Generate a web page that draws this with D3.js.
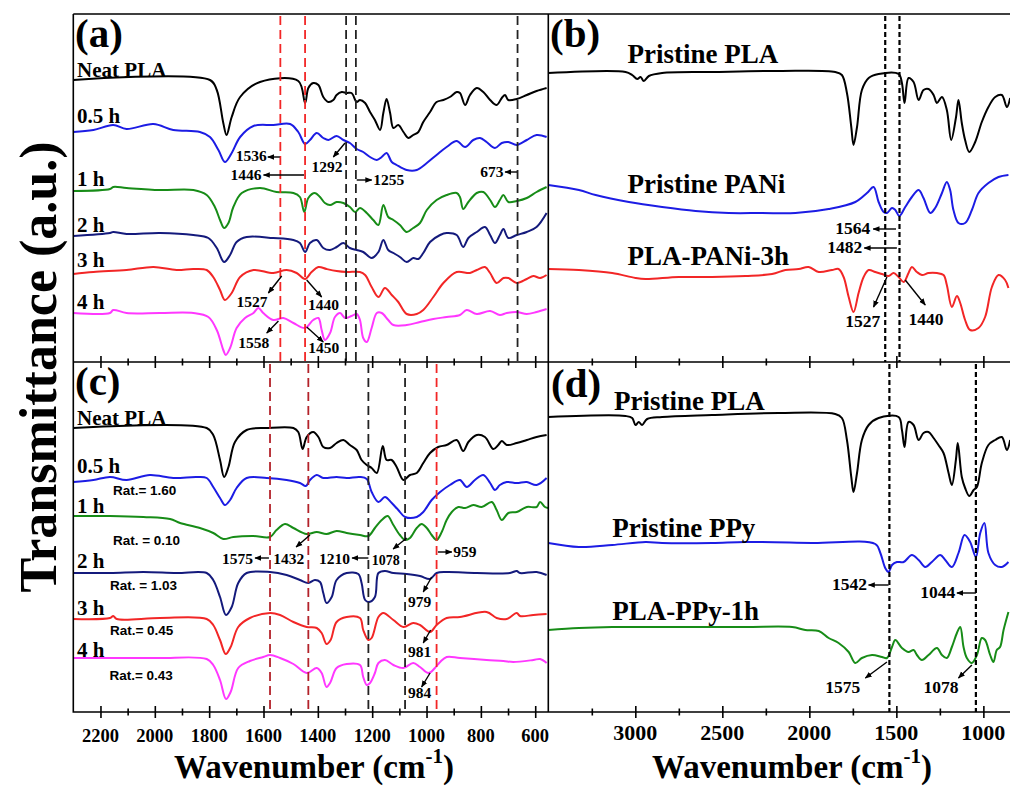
<!DOCTYPE html>
<html>
<head>
<meta charset="utf-8">
<script src="https://cdn.jsdelivr.net/npm/d3@7"></script>
<style>
  body { margin: 0; background: #fff; }
  svg { display: block; }
  text { font-family: "Liberation Serif", "Times New Roman", serif; font-weight: bold; fill: #000; }
</style>
</head>
<body>
<svg id="chart" width="1010" height="787"></svg>
<script>
// ---- spectra: [wavenumber (cm-1), transmittance (a.u., offset stacked)]
// panel (a)
const aNeat = [[2300,282],[1797,282],[1772,272],[1748,239],[1736,227],[1717,245],[1686,265],[1613,280],[1472,281],[1447,259],[1435,274],[1417,279],[1398,277],[1380,265],[1361,260],[1343,262],[1331,267],[1312,270],[1294,269],[1276,269],[1257,260],[1245,262],[1226,259],[1208,250],[1190,242],[1171,232],[1159,249],[1147,263],[1134,249],[1122,234],[1104,237],[1085,230],[1067,224],[1049,227],[1030,230],[1012,240],[987,250],[963,260],[938,262],[914,265],[889,270],[877,269],[858,257],[840,267],[815,274],[791,270],[766,262],[742,257],[723,264],[711,267],[699,262],[668,263],[631,267],[595,271],[558,274]];
const a05h = [[2300,230],[2226,232],[2153,237],[2104,233],[2005,238],[1932,232],[1834,230],[1797,225],[1766,212],[1742,200],[1717,209],[1686,225],[1637,236],[1564,237],[1502,238],[1472,230],[1447,218],[1429,222],[1404,229],[1380,224],[1361,222],[1331,226],[1306,222],[1282,219],[1257,213],[1233,210],[1208,205],[1183,202],[1165,205],[1147,209],[1128,200],[1110,197],[1073,192],[1036,192],[999,199],[963,207],[926,215],[889,221],[858,215],[828,222],[803,224],[779,220],[748,214],[723,219],[699,220],[668,217],[631,222],[595,227],[558,225]];
const a1h = [[2300,171],[2165,173],[2153,175],[2104,174],[1981,172],[1858,172],[1809,167],[1779,155],[1760,142],[1745,134],[1729,139],[1711,155],[1680,169],[1613,174],[1552,170],[1490,169],[1466,165],[1450,150],[1435,164],[1411,169],[1392,165],[1374,159],[1355,157],[1331,160],[1306,159],[1282,155],[1263,150],[1245,154],[1220,149],[1196,142],[1177,137],[1159,157],[1141,145],[1122,142],[1098,137],[1073,130],[1049,134],[1024,139],[999,152],[963,162],[926,167],[889,169],[877,165],[865,153],[846,160],[815,169],[791,170],[766,162],[748,155],[730,162],[717,167],[699,160],[668,161],[631,164],[595,170],[558,175]];
const a2h = [[2300,126],[2165,129],[2153,130],[2104,128],[1981,129],[1858,127],[1803,124],[1772,114],[1745,100],[1723,107],[1699,120],[1662,125],[1564,124],[1490,122],[1466,119],[1447,110],[1429,119],[1404,122],[1380,114],[1355,112],[1331,115],[1306,119],[1282,114],[1257,112],[1233,110],[1202,104],[1177,110],[1159,122],[1141,112],[1122,109],[1098,105],[1073,100],[1049,104],[1030,103],[1012,109],[987,120],[950,127],[926,129],[889,127],[865,115],[846,124],[815,130],[785,135],[766,127],[748,119],[730,127],[717,133],[699,124],[668,127],[631,130],[595,135],[558,149]];
const a3h = [[2300,88],[2226,90],[2104,92],[2005,95],[1920,92],[1858,93],[1809,92],[1785,85],[1760,72],[1742,62],[1717,69],[1686,85],[1637,92],[1564,89],[1515,92],[1478,89],[1447,83],[1423,90],[1398,95],[1368,93],[1331,91],[1294,90],[1245,90],[1226,87],[1202,75],[1177,65],[1153,74],[1128,67],[1104,60],[1073,48],[1036,48],[1012,52],[975,65],[938,79],[889,90],[840,89],[815,92],[785,95],[766,89],[742,79],[717,84],[699,84],[668,79],[631,83],[607,86],[582,84],[558,87]];
const a4h = [[2300,49],[2165,49],[2153,52],[2104,49],[1981,49],[1858,49],[1803,45],[1772,32],[1748,12],[1739,7],[1723,14],[1699,34],[1668,44],[1637,49],[1619,54],[1601,49],[1564,42],[1527,44],[1490,39],[1447,34],[1417,42],[1398,44],[1386,32],[1374,22],[1355,29],[1337,45],[1318,49],[1300,44],[1276,46],[1257,48],[1245,42],[1233,24],[1220,20],[1202,34],[1183,49],[1165,49],[1141,42],[1122,37],[1073,37],[1024,40],[975,43],[926,45],[877,47],[852,52],[815,48],[766,51],[730,47],[705,49],[668,50],[631,48],[595,50],[558,53]];

// panel (c)
const cNeat = [[2300,284],[1809,284],[1785,277],[1760,252],[1745,235],[1729,245],[1705,270],[1662,282],[1588,284],[1490,284],[1472,280],[1456,263],[1441,275],[1417,280],[1398,275],[1380,265],[1355,264],[1331,269],[1306,272],[1282,267],[1257,262],[1239,252],[1220,247],[1202,244],[1183,239],[1161,266],[1147,252],[1128,252],[1110,245],[1085,232],[1061,237],[1036,239],[1012,249],[987,259],[957,265],[926,267],[889,272],[865,261],[846,270],[815,277],[785,275],[754,263],[736,267],[723,271],[705,267],[668,269],[631,272],[595,275],[558,277]];
const c05h = [[2300,230],[2226,232],[2165,235],[2104,232],[2018,237],[1932,234],[1846,235],[1809,234],[1785,225],[1760,214],[1742,207],[1723,212],[1699,224],[1662,234],[1588,234],[1515,232],[1466,229],[1444,226],[1429,232],[1404,237],[1380,234],[1331,235],[1294,234],[1245,235],[1220,233],[1202,220],[1177,210],[1153,215],[1128,209],[1104,202],[1079,195],[1036,195],[1012,200],[981,212],[950,220],[914,227],[877,232],[852,225],[822,232],[791,237],[766,229],[748,222],[730,227],[705,230],[668,229],[631,230],[595,227],[558,234]];
const c1h = [[2300,196],[2165,196],[2042,195],[1944,193],[1907,189],[1834,184],[1785,179],[1748,173],[1711,175],[1637,176],[1576,175],[1552,182],[1521,188],[1490,184],[1441,178],[1404,180],[1368,178],[1331,181],[1294,179],[1245,177],[1214,176],[1190,184],[1165,192],[1143,196],[1122,187],[1098,177],[1079,172],[1061,174],[1036,184],[1018,188],[999,184],[981,177],[963,172],[944,180],[926,192],[907,200],[883,205],[858,204],[828,207],[797,205],[760,210],[742,202],[723,192],[699,199],[668,200],[631,205],[595,205],[582,210],[564,205],[552,204]];
const c2h = [[2300,139],[2165,139],[2042,140],[1920,139],[1809,139],[1785,132],[1760,115],[1738,97],[1717,105],[1693,129],[1662,139],[1576,140],[1515,137],[1466,132],[1435,129],[1411,132],[1392,130],[1380,119],[1368,109],[1349,115],[1331,132],[1294,139],[1251,138],[1239,129],[1226,112],[1211,110],[1190,115],[1177,139],[1153,141],[1122,139],[1073,138],[1024,136],[987,133],[963,139],[926,140],[815,139],[693,139],[668,141],[656,139],[595,140],[558,137]];
const c3h = [[2300,93],[2165,94],[2153,96],[2140,93],[1981,94],[1809,93],[1785,87],[1760,72],[1739,58],[1721,65],[1693,85],[1650,94],[1576,99],[1539,97],[1490,90],[1441,85],[1404,84],[1386,79],[1368,68],[1353,72],[1331,90],[1294,95],[1245,94],[1233,82],[1214,72],[1202,74],[1177,95],[1159,99],[1122,92],[1085,85],[1049,89],[1024,87],[987,80],[963,87],[926,94],[877,95],[779,100],[742,94],[705,93],[668,99],[656,96],[607,97],[558,98]];
const c4h = [[2300,54],[2104,54],[1981,54],[1809,53],[1785,47],[1760,32],[1738,13],[1721,20],[1693,44],[1650,51],[1601,55],[1576,57],[1539,54],[1490,48],[1441,39],[1404,44],[1386,39],[1368,25],[1355,29],[1331,44],[1294,48],[1245,47],[1233,35],[1220,27],[1208,29],[1190,39],[1177,49],[1153,52],[1122,47],[1085,44],[1049,49],[1024,45],[993,39],[969,44],[950,50],[926,55],[877,54],[779,52],[717,51],[681,50],[607,52],[582,53],[558,49]];

// panel (b)
const bPLA = [[3500,289],[3056,290],[3018,287],[2989,283],[2970,285],[2951,281],[2922,286],[2846,289],[2559,290],[2176,291],[1851,290],[1813,287],[1784,269],[1759,235],[1746,217],[1726,235],[1698,272],[1659,284],[1602,288],[1487,288],[1468,279],[1453,259],[1430,284],[1401,280],[1372,262],[1344,272],[1315,273],[1286,267],[1267,259],[1238,265],[1210,252],[1185,222],[1158,244],[1143,262],[1124,239],[1105,222],[1081,210],[1047,220],[1009,240],[971,255],[932,265],[894,267],[865,255],[846,264]];
const bPANi = [[3500,177],[3324,172],[3228,167],[3037,160],[2846,155],[2654,151],[2463,149],[2272,149],[2080,149],[1889,153],[1736,160],[1669,169],[1631,175],[1602,160],[1573,150],[1554,149],[1525,154],[1506,152],[1483,146],[1449,155],[1411,165],[1372,172],[1344,164],[1305,149],[1277,154],[1238,169],[1210,180],[1191,172],[1172,152],[1143,139],[1105,139],[1066,152],[1028,169],[971,179],[913,185],[856,187]];
const bPLAPANi = [[3500,93],[3324,92],[3133,89],[2999,84],[2941,83],[2750,85],[2559,85],[2367,86],[2214,88],[2138,92],[2061,93],[2004,95],[1946,90],[1870,92],[1832,93],[1803,85],[1774,65],[1746,50],[1717,69],[1688,85],[1659,92],[1621,90],[1583,88],[1545,86],[1516,89],[1487,85],[1458,80],[1430,89],[1411,95],[1382,90],[1353,87],[1315,89],[1267,89],[1229,87],[1210,77],[1181,55],[1152,66],[1133,59],[1105,42],[1076,32],[1028,34],[990,45],[951,75],[913,87],[875,82],[856,74]];

// panel (d)
const dPLA = [[3500,295],[3056,296],[3018,294],[2999,287],[2980,290],[2961,287],[2932,293],[2846,295],[2559,297],[2176,299],[1851,298],[1813,294],[1784,272],[1759,235],[1746,220],[1726,239],[1698,272],[1659,287],[1602,294],[1487,295],[1468,282],[1453,265],[1430,290],[1401,287],[1372,272],[1344,279],[1315,280],[1286,274],[1258,267],[1229,259],[1200,239],[1181,227],[1158,252],[1147,269],[1124,235],[1105,224],[1081,216],[1056,222],[1037,225],[1009,249],[971,267],[932,272],[894,275],[865,262],[846,272]];
const dPPy = [[3500,169],[3324,165],[3133,167],[2941,170],[2846,169],[2559,169],[2367,170],[1985,169],[1621,168],[1592,159],[1564,144],[1545,140],[1525,147],[1497,150],[1458,150],[1411,157],[1372,152],[1334,145],[1296,150],[1248,157],[1219,152],[1181,145],[1143,159],[1108,177],[1076,170],[1043,155],[1018,179],[994,189],[971,159],[932,147],[894,145],[856,150]];
const dPLAPPy = [[3500,82],[3324,84],[3133,85],[2750,85],[2367,85],[2099,85],[2023,82],[1946,81],[1889,74],[1832,69],[1774,60],[1736,49],[1698,54],[1640,57],[1583,55],[1554,54],[1525,65],[1506,72],[1468,64],[1430,60],[1401,62],[1382,57],[1353,52],[1315,57],[1267,64],[1238,57],[1210,54],[1181,65],[1152,79],[1133,85],[1114,65],[1095,54],[1066,49],[1037,57],[1009,74],[990,72],[961,57],[942,50],[923,62],[904,65],[884,82],[856,100]];

// reference lines (cm-1)
const aRedLines = [1538, 1447];
const aBlackLines = [1296, 1260, 665];
const cDarkRedLines = [1576, 1435];
const cBlackLines = [1214, 1079];
const cRedLines = [963];
const bLines = [1564, 1482];
const dLines = [1540, 1043];

// axis ticks
const leftMajor = [2200, 2000, 1800, 1600, 1400, 1200, 1000, 800, 600];
const leftMinor = [2100, 1900, 1700, 1500, 1300, 1100, 900, 700];
const rightMajor = [3000, 2500, 2000, 1500, 1000];
const rightMinor = [3250, 2750, 2250, 1750, 1250];

const C = { black: "#000", blue: "#1c1ce4", green: "#178c17", navy: "#141a7c",
            red: "#f22626", magenta: "#ff38ff", darkred: "#b3222a" };

const svg = d3.select("#chart");
const L0 = 73.3, MID = 548.3, R1 = 1010, T0 = 14, YM = 362, B0 = 712;

const leftX = d3.scaleLinear().domain([2300, 550]).range([L0, 548.8]);
const rightX = d3.scaleLinear().domain([3500, 847]).range([MID, R1]);
const topY = d3.scaleLinear().domain([0, 348]).range([YM, T0]);
const botY = d3.scaleLinear().domain([0, 350]).range([B0, YM]);

// arrow marker
svg.append("defs").append("marker")
  .attr("id", "ah").attr("viewBox", "0 0 10 10").attr("refX", 9).attr("refY", 5)
  .attr("markerUnits", "userSpaceOnUse").attr("markerWidth", 7).attr("markerHeight", 7)
  .attr("orient", "auto")
  .append("path").attr("d", "M0,1 L10,5 L0,9 z").attr("fill", "#000");

const panels = [
  { id: "a", x: leftX, y: topY, y0: T0, y1: YM, x0: L0, x1: MID,
    series: [[aNeat, C.black], [a05h, C.blue], [a1h, C.green], [a2h, C.navy], [a3h, C.red], [a4h, C.magenta]],
    lines: [...aRedLines.map(w => [w, C.red]), ...aBlackLines.map(w => [w, "#222"])], dash: "9,5", lw: 1.8,
    names: [["Neat PLA", 2286, 285], ["0.5 h", 2286, 239], ["1 h", 2286, 176], ["2 h", 2286, 130], ["3 h", 2286, 95], ["4 h", 2286, 53]],
    nameSize: 21, noteSize: 15.5,
    notes: [
      { t: "1536", p: [1588, 201], a: "end", ar: [1540, 205, 1584, 205] },
      { t: "1446", p: [1607, 182], a: "end", ar: [1451, 187, 1600, 187] },
      { t: "1292", p: [1423, 190], a: "start", ar: [1300, 219, 1343, 205] },
      { t: "1255", p: [1196, 177], a: "start", ar: [1257, 182, 1202, 182] },
      { t: "673", p: [717, 185], a: "end", ar: [667, 190, 711, 190] },
      { t: "1527", p: [1699, 55], a: "start", ar: [1533, 86, 1582, 69] },
      { t: "1440", p: [1436, 52], a: "start", ar: [1441, 82, 1386, 65] },
      { t: "1558", p: [1693, 14], a: "start", ar: [1545, 41, 1588, 29] },
      { t: "1450", p: [1435, 9], a: "start", ar: [1441, 35, 1380, 20] }
    ] },
  { id: "c", x: leftX, y: botY, y0: YM, y1: B0, x0: L0, x1: MID,
    series: [[cNeat, C.black], [c05h, C.blue], [c1h, C.green], [c2h, C.navy], [c3h, C.red], [c4h, C.magenta]],
    lines: [...cDarkRedLines.map(w => [w, C.darkred]), ...cBlackLines.map(w => [w, "#222"]), ...cRedLines.map(w => [w, C.red])], dash: "9,5", lw: 1.8,
    names: [["Neat PLA", 2286, 287], ["0.5 h", 2286, 239], ["1 h", 2286, 199], ["2 h", 2286, 144], ["3 h", 2286, 97], ["4 h", 2286, 55]],
    nameSize: 21, noteSize: 15.5,
    rats: [["Rat.= 1.60", 2154, 217], ["Rat. = 0.10", 2154, 167], ["Rat. = 1.03", 2165, 122], ["Rat.= 0.45", 2165, 77], ["Rat.= 0.43", 2167, 32]],
    notes: [
      { t: "1575", p: [1639, 148], a: "end", ar: [1580, 154, 1631, 154] },
      { t: "1432", p: [1564, 148], a: "start", ar: [1429, 177, 1480, 165] },
      { t: "1210", p: [1282, 148], a: "end", ar: [1214, 154, 1274, 154] },
      { t: "1078", p: [1202, 147], a: "start", ar: [1073, 174, 1123, 163], s: 14 },
      { t: "959", p: [902, 155], a: "start", ar: [958, 160, 907, 160] },
      { t: "979", p: [1068, 105], a: "start", ar: [981, 135, 1012, 120] },
      { t: "981", p: [1068, 55], a: "start", ar: [985, 82, 1012, 69] },
      { t: "984", p: [1068, 14], a: "start", ar: [987, 39, 1018, 25] }
    ] },
  { id: "b", x: rightX, y: topY, y0: T0, y1: YM, x0: MID, x1: R1,
    series: [[bPLA, C.black], [bPANi, C.blue], [bPLAPANi, C.red]],
    lines: bLines.map(w => [w, "#000"]), dash: "5,3", lw: 2.2,
    names: [["Pristine PLA", 3045, 299], ["Pristine PANi", 3045, 169], ["PLA-PANi-3h", 3045, 97]],
    nameSize: 27, noteSize: 17.5,
    notes: [
      { t: "1564", p: [1650, 128], a: "end", ar: [1502, 133, 1633, 133] },
      { t: "1482", p: [1696, 109], a: "end", ar: [1497, 114, 1684, 114] },
      { t: "1527", p: [1793, 35], a: "start", ar: [1554, 85, 1631, 55] },
      { t: "1440", p: [1430, 37], a: "start", ar: [1449, 82, 1334, 57] }
    ] },
  { id: "d", x: rightX, y: botY, y0: YM, y1: B0, x0: MID, x1: R1,
    series: [[dPLA, C.black], [dPPy, C.blue], [dPLAPPy, C.green]],
    lines: dLines.map(w => [w, "#000"]), dash: "5,3", lw: 2.2,
    names: [["Pristine PLA", 3123, 302], ["Pristine PPy", 3133, 175], ["PLA-PPy-1h", 3133, 92]],
    nameSize: 27, noteSize: 17.5,
    notes: [
      { t: "1542", p: [1669, 122], a: "end", ar: [1545, 127, 1660, 127] },
      { t: "1044", p: [1162, 114], a: "end", ar: [1043, 119, 1152, 119] },
      { t: "1575", p: [1908, 19], a: "start", ar: [1554, 50, 1678, 34] },
      { t: "1078", p: [1344, 19], a: "start", ar: [1066, 47, 1143, 34] }
    ] }
];

panels.forEach(P => {
  const g = svg.append("g");
  g.append("clipPath").attr("id", "clip-" + P.id)
    .append("rect").attr("x", P.x0).attr("y", P.y0).attr("width", P.x1 - P.x0).attr("height", P.y1 - P.y0);
  const plot = g.append("g").attr("clip-path", `url(#clip-${P.id})`);
  const line = d3.line().x(d => P.x(d[0])).y(d => P.y(d[1])).curve(d3.curveCatmullRom.alpha(0.5));

  plot.selectAll("path.spec").data(P.series).join("path")
    .attr("class", "spec").attr("d", d => line(d[0]))
    .attr("fill", "none").attr("stroke", d => d[1]).attr("stroke-width", 2).attr("stroke-linejoin", "round");

  plot.selectAll("line.ref").data(P.lines).join("line")
    .attr("class", "ref")
    .attr("x1", d => P.x(d[0])).attr("x2", d => P.x(d[0]))
    .attr("y1", P.y0 + 2).attr("y2", P.y1)
    .attr("stroke", d => d[1]).attr("stroke-width", P.lw).attr("stroke-dasharray", P.dash);

  g.selectAll("text.name").data(P.names).join("text")
    .attr("class", "name").attr("x", d => P.x(d[1])).attr("y", d => P.y(d[2]))
    .style("font-size", P.nameSize + "px").text(d => d[0]);

  if (P.rats) {
    g.selectAll("text.rat").data(P.rats).join("text")
      .attr("class", "rat").attr("x", d => P.x(d[1])).attr("y", d => P.y(d[2]))
      .style("font-family", "'Liberation Sans', Arial, sans-serif").style("font-size", "13.5px")
      .text(d => d[0]);
  }

  g.selectAll("text.note").data(P.notes).join("text")
    .attr("class", "note").attr("x", d => P.x(d.p[0])).attr("y", d => P.y(d.p[1]))
    .attr("text-anchor", d => d.a).style("font-size", d => (d.s || P.noteSize) + "px")
    .text(d => d.t);

  g.selectAll("line.arrow").data(P.notes).join("line")
    .attr("class", "arrow")
    .attr("x1", d => P.x(d.ar[0])).attr("y1", d => P.y(d.ar[1]))
    .attr("x2", d => P.x(d.ar[2])).attr("y2", d => P.y(d.ar[3]))
    .attr("stroke", "#000").attr("stroke-width", 1.4).attr("marker-end", "url(#ah)");
});

// panel letters
[["(a)", 75, 47], ["(b)", 550, 47], ["(c)", 75, 395], ["(d)", 551, 397]].forEach(([t, x, y]) => {
  svg.append("text").attr("x", x).attr("y", y).style("font-size", "41px").text(t);
});

// frames
const frame = svg.append("g").attr("stroke", "#000").attr("stroke-width", 1.6).attr("fill", "none");
frame.append("path").attr("d", `M${L0},${T0}H${R1}M${L0},${T0}V${B0}H${R1}M${MID},${T0}V${B0}M${L0},${YM}H${R1}`);

// axes with ticks crossing the frame lines
function ticks(scale, y, major, minor, labelSize, labelY) {
  [[major, 6], [minor, 3.5]].forEach(([vals, len]) => {
    svg.append("g").attr("transform", `translate(0,${y})`)
      .call(d3.axisBottom(scale).tickValues(vals).tickSize(len).tickSizeOuter(0).tickFormat(""))
      .call(s => s.select(".domain").remove())
      .call(s => s.selectAll("line").attr("stroke-width", 1.6));
    svg.append("g").attr("transform", `translate(0,${y})`)
      .call(d3.axisTop(scale).tickValues(vals).tickSize(len).tickSizeOuter(0).tickFormat(""))
      .call(s => s.select(".domain").remove())
      .call(s => s.selectAll("line").attr("stroke-width", 1.6));
  });
  if (labelSize) {
    svg.append("g").selectAll("text").data(major).join("text")
      .attr("x", d => scale(d)).attr("y", labelY).attr("text-anchor", "middle")
      .style("font-size", labelSize + "px").text(d => d3.format("d")(d));
  }
}
ticks(leftX, YM, leftMajor, leftMinor);
ticks(leftX, B0, leftMajor, leftMinor, 18.5, 742);
ticks(rightX, YM, rightMajor, rightMinor);
ticks(rightX, B0, rightMajor, rightMinor, 22, 740);

// axis titles
function xTitle(cx) {
  const t = svg.append("text").attr("x", cx).attr("y", 778).attr("text-anchor", "middle").style("font-size", "33px");
  t.append("tspan").text("Wavenumber (cm");
  t.append("tspan").attr("dy", -15).style("font-size", "21px").text("-1");
  t.append("tspan").attr("dy", 15).text(")");
}
xTitle(314);
xTitle(792);

svg.append("text").attr("transform", "translate(56,367) rotate(-90)")
  .attr("text-anchor", "middle").style("font-size", "52px").text("Transmittance (a.u.)");
</script>
</body>
</html>
